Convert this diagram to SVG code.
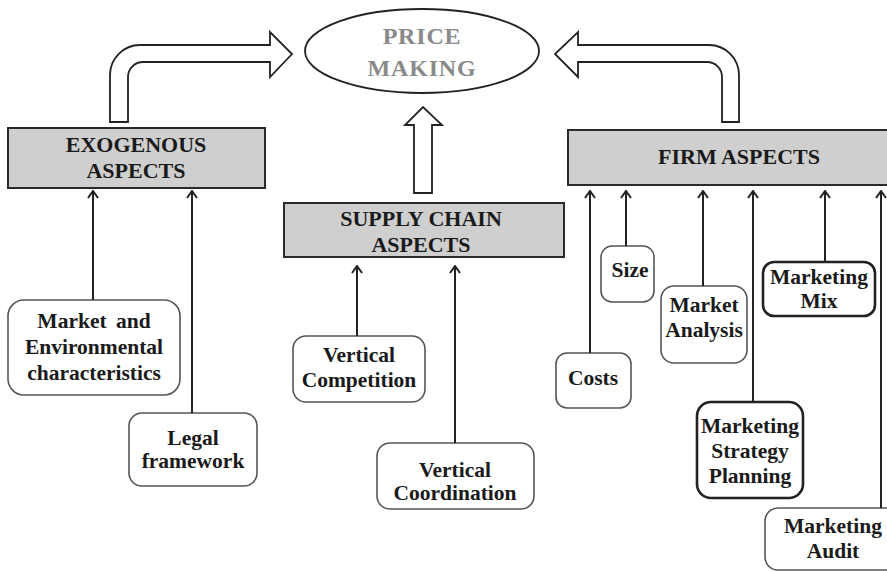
<svg xmlns="http://www.w3.org/2000/svg" width="887" height="572" viewBox="0 0 887 572">
<style>
text{font-family:"Liberation Serif","Times New Roman",serif;font-weight:bold;fill:#1a1a1a;text-anchor:middle;font-size:21.5px}
.hdr{fill:#cfcfcf;stroke:#2a2a2a;stroke-width:2}
.box{fill:#fff;stroke:#555;stroke-width:1.6}
.boxb{fill:#fff;stroke:#222;stroke-width:2.6}
.blk{fill:#fff;stroke:#222;stroke-width:1.8;stroke-linejoin:miter}
.con{stroke:#222;stroke-width:2;fill:none;marker-end:url(#ah)}
.big{font-size:24px;fill:#8a8a8a}
.h{font-size:22px}
</style>
<defs>
<marker id="ah" viewBox="0 0 10 12" refX="9" refY="6" markerWidth="10" markerHeight="12" markerUnits="userSpaceOnUse" orient="auto">
<polyline points="2,1 9,6 2,11" fill="none" stroke="#222" stroke-width="2"/>
</marker>
</defs>

<g id="price-making">
<ellipse cx="422" cy="51" rx="117" ry="42" fill="#fff" stroke="#222" stroke-width="1.8"/>
<text class="big" x="422" y="44" letter-spacing="0.8">PRICE</text>
<text class="big" x="422" y="76" letter-spacing="0.8">MAKING</text>
</g>

<g id="block-arrows">
<path class="blk" d="M110,122 L110,75 A30,30 0 0 1 140,45 L270,45 L270,32 L292,54 L270,77 L270,62 L143,62 A15,15 0 0 0 128,77 L128,122 Z"/>
<path class="blk" d="M739,122 L739,75 A30,30 0 0 0 709,45 L578,45 L578,32 L555,54 L578,77 L578,62 L707,62 A15,15 0 0 1 722,77 L722,122 Z"/>
<path class="blk" d="M414,193 L414,125 L405,125 L423,107 L442,125 L432,125 L432,193 Z"/>
</g>

<g id="exogenous">
<rect class="hdr" x="8" y="128" width="257" height="60"/>
<text class="h" x="136" y="152">EXOGENOUS</text>
<text class="h" x="136" y="178">ASPECTS</text>
</g>

<g id="supply-chain">
<rect class="hdr" x="284" y="203" width="280" height="54"/>
<text class="h" x="421" y="226">SUPPLY CHAIN</text>
<text class="h" x="421" y="252">ASPECTS</text>
</g>

<g id="firm">
<rect class="hdr" x="568" y="130" width="330" height="55"/>
<text class="h" x="739" y="164">FIRM ASPECTS</text>
</g>

<g id="market-env">
<rect class="box" x="8" y="300" width="172" height="95" rx="16"/>
<text x="94" y="328" word-spacing="4">Market and</text>
<text x="94" y="354">Environmental</text>
<text x="94" y="380">characteristics</text>
</g>

<g id="legal">
<rect class="box" x="129" y="413" width="128" height="73" rx="13"/>
<text x="193" y="445">Legal</text>
<text x="193" y="468">framework</text>
</g>

<g id="vert-competition">
<rect class="box" x="293" y="336" width="132" height="66" rx="13"/>
<text x="359" y="362">Vertical</text>
<text x="359" y="387">Competition</text>
</g>

<g id="vert-coordination">
<rect class="box" x="377" y="443" width="157" height="66" rx="13"/>
<text x="455" y="477">Vertical</text>
<text x="455" y="500">Coordination</text>
</g>

<g id="costs">
<rect class="box" x="556" y="353" width="75" height="55" rx="11"/>
<text x="593" y="385">Costs</text>
</g>

<g id="size">
<rect class="box" x="601" y="246" width="53" height="56" rx="11"/>
<text x="630" y="277">Size</text>
</g>

<g id="market-analysis">
<rect class="box" x="661" y="286" width="86" height="77" rx="13"/>
<text x="704" y="312">Market</text>
<text x="704" y="337">Analysis</text>
</g>

<g id="marketing-mix">
<rect class="boxb" x="763" y="262" width="112" height="54" rx="11"/>
<text x="819" y="284">Marketing</text>
<text x="819" y="308">Mix</text>
</g>

<g id="marketing-strategy">
<rect class="boxb" x="697" y="402" width="106" height="96" rx="14"/>
<text x="750" y="433">Marketing</text>
<text x="750" y="458">Strategy</text>
<text x="750" y="483">Planning</text>
</g>

<g id="marketing-audit">
<rect class="box" x="765" y="508" width="135" height="62" rx="13"/>
<text x="833" y="533">Marketing</text>
<text x="833" y="558">Audit</text>
</g>

<g id="connectors">
<line class="con" x1="93" y1="300" x2="93" y2="191"/>
<line class="con" x1="192" y1="413" x2="192" y2="191"/>
<line class="con" x1="357" y1="336" x2="357" y2="266"/>
<line class="con" x1="455" y1="443" x2="455" y2="266"/>
<line class="con" x1="590" y1="353" x2="590" y2="191"/>
<line class="con" x1="626" y1="246" x2="626" y2="191"/>
<line class="con" x1="703" y1="286" x2="703" y2="191"/>
<line class="con" x1="753" y1="402" x2="753" y2="191"/>
<line class="con" x1="825" y1="262" x2="825" y2="191"/>
<line class="con" x1="881" y1="508" x2="881" y2="191"/>
</g>
</svg>
